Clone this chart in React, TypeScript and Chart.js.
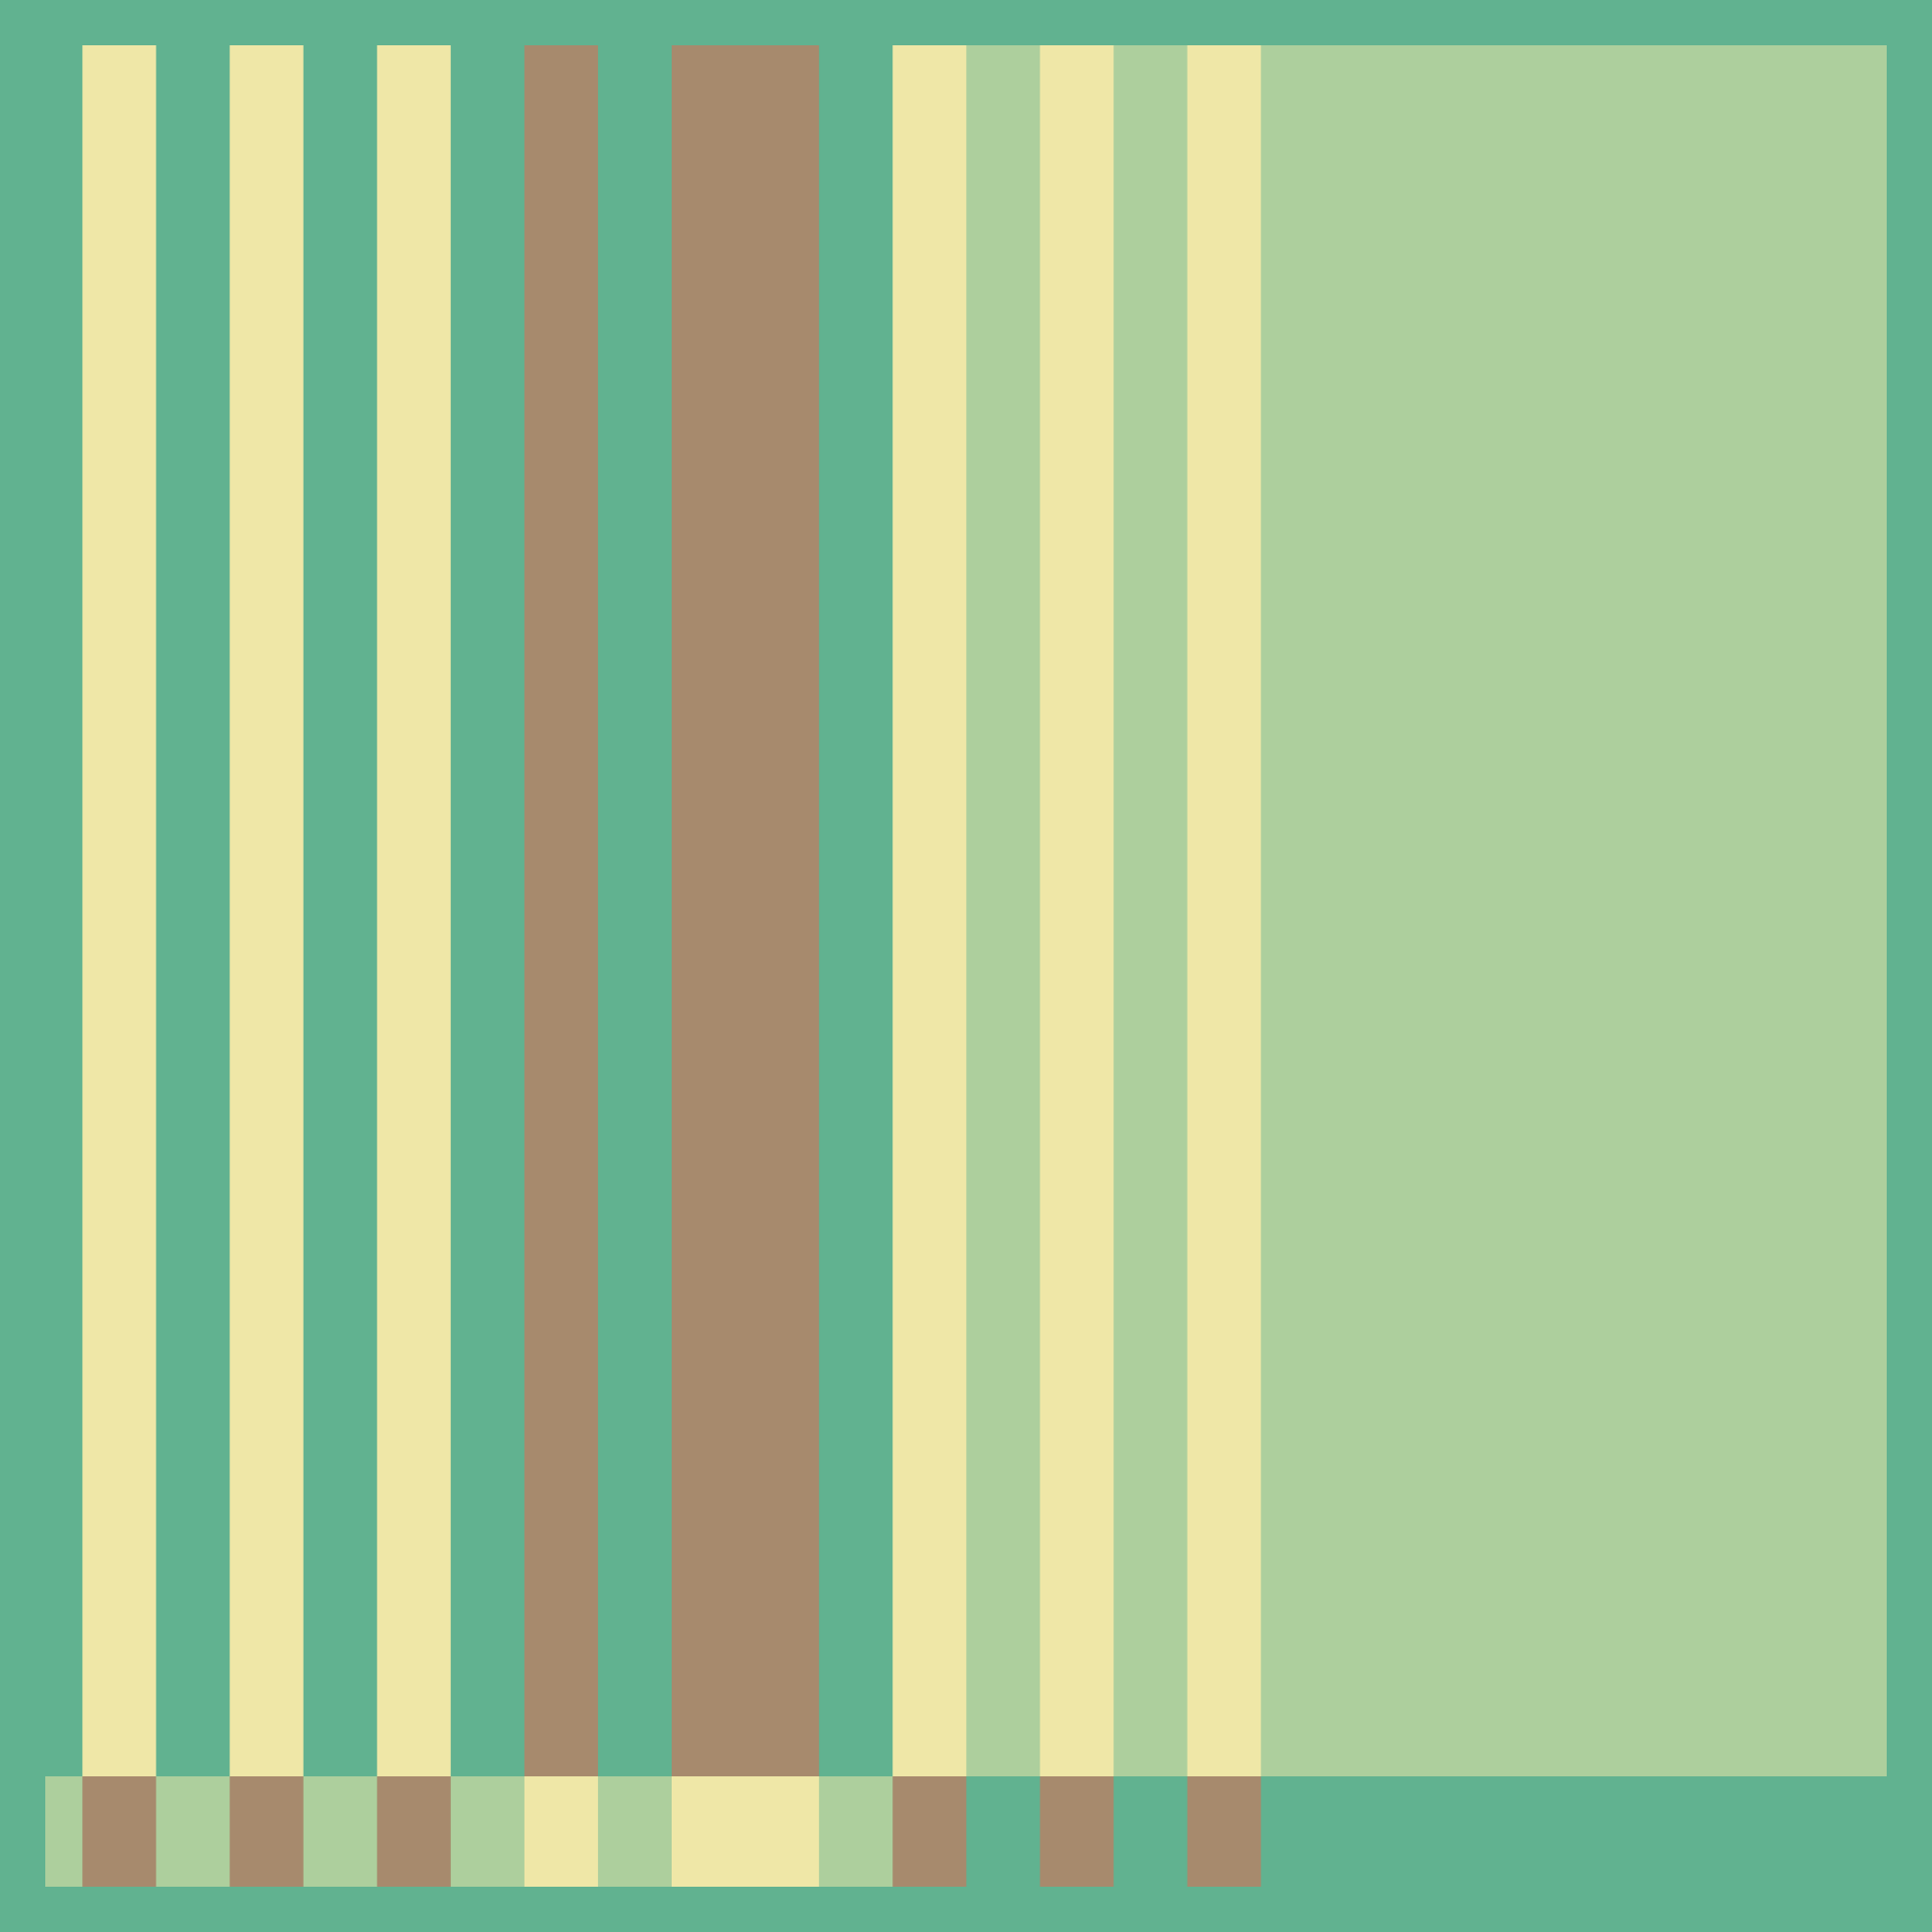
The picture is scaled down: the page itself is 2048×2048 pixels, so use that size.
import React, { useEffect, useRef } from "react";
import { Chart, registerables } from "chart.js";

Chart.register(...registerables);

// Column widths along x (grid units), left to right
const columnWidths = [0.5, 1, 1, 1, 1, 1, 1, 1, 1, 2, 1, 1, 1, 1, 1, 1, 8.5];

// Row heights (grid units)
const rowLabels = ["top", "bottom"];
const rowHeights = [23.5, 1.5];

// Cell level per column: 0 = teal, 1 = light green, 2 = yellow, 3 = brown
const topRowLevels = [0, 2, 0, 2, 0, 2, 0, 3, 0, 3, 0, 2, 1, 2, 1, 2, 1];
const bottomRowLevels = [1, 3, 1, 3, 1, 3, 1, 2, 1, 2, 1, 3, 0, 3, 0, 3, 0];

const levelColors = ["#61b290", "#adcf9d", "#efe7a7", "#a78a6d"];
const BG = "#61b290";

export default function App() {
  const ref = useRef<HTMLCanvasElement | null>(null);

  useEffect(() => {
    if (!ref.current) return;
    const total = columnWidths.reduce((a, b) => a + b, 0);
    const rows = [topRowLevels, bottomRowLevels];
    const axisIds = ["yTop", "yBot"];
    const datasets: any[] = [];
    rows.forEach((levels, r) => {
      columnWidths.forEach((w, c) => {
        datasets.push({
          label: `${rowLabels[r]}-${c}`,
          data: [w],
          yAxisID: axisIds[r],
          stack: "cells",
          grouped: false,
          backgroundColor: levelColors[levels[c]],
          borderWidth: 0,
          categoryPercentage: 1,
          barPercentage: 1,
        });
      });
    });

    const chart = new Chart(ref.current, {
      type: "bar",
      data: { labels: [""], datasets },
      options: {
        indexAxis: "y",
        animation: false,
        responsive: false,
        devicePixelRatio: 1,
        layout: { padding: 48 },
        plugins: { legend: { display: false }, tooltip: { enabled: false } },
        scales: {
          x: { type: "linear", min: 0, max: total, stacked: true, display: false },
          yTop: {
            type: "category",
            labels: [rowLabels[0]],
            position: "left",
            stack: "rows",
            stackWeight: rowHeights[0],
            weight: 2,
            offset: true,
            stacked: true,
            display: false,
          },
          yBot: {
            type: "category",
            labels: [rowLabels[1]],
            position: "left",
            stack: "rows",
            stackWeight: rowHeights[1],
            weight: 1,
            offset: true,
            stacked: true,
            display: false,
          },
        } as any,
      },
    });
    return () => chart.destroy();
  }, []);

  return (
    <div style={{ position: "fixed", left: 0, top: 0, width: 2048, height: 2048, background: BG }}>
      <canvas ref={ref} width={2048} height={2048} style={{ display: "block", width: 2048, height: 2048 }} />
    </div>
  );
}
